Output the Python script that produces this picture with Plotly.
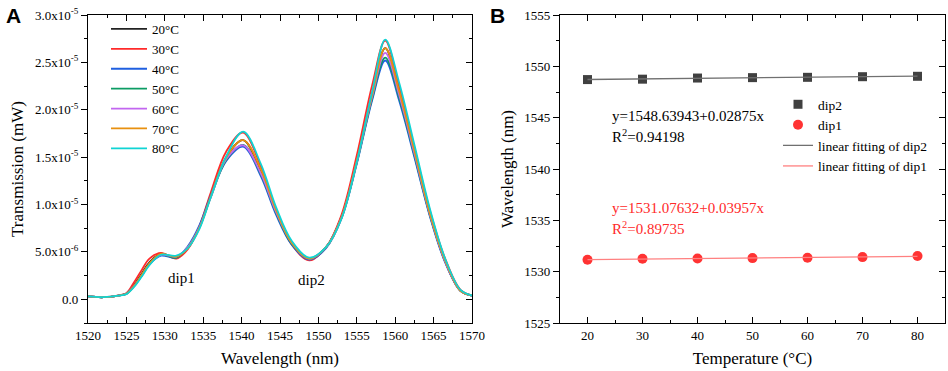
import numpy as np
import plotly.graph_objects as go

# ---------------- Panel A data ----------------
wavelength = [1520, 1522, 1524, 1525, 1526, 1527, 1528, 1529.5, 1531.5, 1533, 1534.5, 1536, 1538,
              1540.2, 1542.5, 1544.5, 1546.5, 1548.8, 1551, 1553, 1555, 1557, 1558.7, 1560.5,
              1562.5, 1564.5, 1566.5, 1568.5, 1570]
# transmission in units of 1e-6 mW
t20 = [0.30, 0.22, 0.40, 0.60, 1.5, 2.7, 3.9, 4.8, 4.4, 5.4, 7.6, 11.0, 15.0, 16.8, 13.5, 9.2, 5.9, 4.2, 5.5, 8.7, 14.7, 21.7, 26.5, 21.8, 15.5, 9.0, 4.0, 0.9, 0.4]
t30 = [0.30, 0.22, 0.42, 0.65, 1.8, 3.1, 4.3, 4.9, 4.3, 5.3, 7.7, 11.3, 15.6, 17.6, 14.0, 9.3, 5.8, 4.1, 5.5, 8.9, 15.2, 22.6, 27.3, 22.5, 16.0, 9.4, 4.3, 1.0, 0.4]
t40 = [0.30, 0.22, 0.40, 0.58, 1.4, 2.5, 3.7, 4.6, 4.4, 5.6, 7.8, 11.0, 14.6, 16.1, 13.0, 8.9, 5.8, 4.2, 5.4, 8.5, 14.3, 21.0, 25.2, 21.0, 15.0, 8.8, 3.9, 0.9, 0.4]
t50 = [0.30, 0.22, 0.40, 0.58, 1.4, 2.5, 3.7, 4.7, 4.4, 5.5, 7.6, 10.8, 14.7, 16.3, 13.2, 9.1, 5.9, 4.3, 5.5, 8.6, 14.4, 21.2, 25.5, 21.3, 15.2, 8.9, 4.0, 0.9, 0.4]
t60 = [0.30, 0.22, 0.40, 0.58, 1.4, 2.5, 3.7, 4.7, 4.5, 5.5, 7.6, 10.8, 14.8, 16.25, 13.3, 9.2, 6.0, 4.3, 5.5, 8.6, 14.5, 21.4, 26.0, 21.6, 15.4, 9.0, 4.0, 0.9, 0.4]
t70 = [0.30, 0.22, 0.40, 0.58, 1.4, 2.6, 3.8, 4.8, 4.5, 5.4, 7.5, 10.9, 15.0, 16.8, 13.7, 9.4, 6.0, 4.3, 5.5, 8.6, 14.6, 21.6, 26.5, 22.0, 15.7, 9.1, 4.1, 0.9, 0.4]
t80 = [0.30, 0.22, 0.38, 0.55, 1.3, 2.4, 3.6, 4.7, 4.6, 5.4, 7.4, 10.8, 15.1, 17.7, 14.3, 9.7, 6.2, 4.4, 5.5, 8.5, 14.5, 21.9, 27.4, 22.9, 16.3, 9.6, 4.3, 1.0, 0.4]
temp_labels = ["20°C", "30°C", "40°C", "50°C", "60°C", "70°C", "80°C"]
line_colors = ["#222222", "#ff2a2a", "#1f5fe0", "#0c9c64", "#c266f0", "#e8900f", "#10d4d4"]

xtick_vals_a = [1520, 1525, 1530, 1535, 1540, 1545, 1550, 1555, 1560, 1565, 1570]
ytick_vals_a = [0, 5e-6, 1e-5, 1.5e-5, 2e-5, 2.5e-5, 3e-5]
ytick_text_a = ["0.0", "5.0x10<sup>-6</sup>", "1.0x10<sup>-5</sup>", "1.5x10<sup>-5</sup>",
                "2.0x10<sup>-5</sup>", "2.5x10<sup>-5</sup>", "3.0x10<sup>-5</sup>"]

# ---------------- Panel B data ----------------
temperature = [20, 30, 40, 50, 60, 70, 80]
dip2 = [1548.71, 1548.75, 1548.86, 1548.90, 1548.93, 1548.99, 1549.03]
dip1 = [1531.16, 1531.26, 1531.29, 1531.32, 1531.35, 1531.42, 1531.52]
ytick_vals_b = [1525, 1530, 1535, 1540, 1545, 1550, 1555]

rangeA_x = [1520, 1570]
rangeA_y = [-2.5e-6, 3.0e-5]
rangeB_x = [15, 85]
rangeB_y = [1525, 1555]

FONT = "Liberation Serif, Times New Roman, Times, serif"
fig = go.Figure()

series = [t20, t30, t40, t50, t60, t70, t80]
for lab, col, vals in zip(temp_labels, line_colors, series):
    fig.add_trace(go.Scatter(x=wavelength, y=np.array(vals) * 1e-6, mode="lines", name=lab,
                             line=dict(color=col, width=1.8, shape="spline", smoothing=1.0),
                             xaxis="x", yaxis="y", legend="legend"))

# Panel B traces
fig.add_trace(go.Scatter(x=temperature, y=dip2, mode="markers", name="dip2",
                         marker=dict(symbol="square", size=9, color="#404040"),
                         xaxis="x2", yaxis="y2", legend="legend2"))
fig.add_trace(go.Scatter(x=temperature, y=dip1, mode="markers", name="dip1",
                         marker=dict(symbol="circle", size=10, color="#ff3333"),
                         xaxis="x2", yaxis="y2", legend="legend2"))
tarr = np.array(temperature, dtype=float)
p2 = np.polyfit(tarr, dip2, 1)
p1 = np.polyfit(tarr, dip1, 1)
fig.add_trace(go.Scatter(x=temperature, y=np.polyval(p2, tarr), mode="lines", name="linear fitting of dip2",
                         line=dict(color="#707070", width=1.3), xaxis="x2", yaxis="y2", legend="legend2"))
fig.add_trace(go.Scatter(x=temperature, y=np.polyval(p1, tarr), mode="lines", name="linear fitting of dip1",
                         line=dict(color="#ff8080", width=1.3), xaxis="x2", yaxis="y2", legend="legend2"))

# Invisible helper traces so the mirrored tick axes (top / right) are rendered
fig.add_trace(go.Scatter(x=rangeA_x, y=rangeA_y, mode="lines", opacity=0, line=dict(width=0),
                         xaxis="x3", yaxis="y3", showlegend=False, hoverinfo="skip"))
fig.add_trace(go.Scatter(x=rangeB_x, y=rangeB_y, mode="lines", opacity=0, line=dict(width=0),
                         xaxis="x4", yaxis="y4", showlegend=False, hoverinfo="skip"))

W, H = 948, 371
def px(x):
    return x / W
def py(y):
    return 1 - y / H

ydom = [py(323), py(15)]
xa_dom = [px(88), px(472)]
xb_dom = [px(560), px(945)]

def tf():
    return dict(family=FONT, size=13, color="black")

def common(mirror=True):
    return dict(showline=True, mirror=mirror, linecolor="black", linewidth=1.3, showgrid=False, zeroline=False,
                tickfont=tf(), tickcolor="black", ticklen=6, tickwidth=1.2, automargin=False)

titlefont = dict(family=FONT, size=17, color="black")

fig.update_layout(
    width=W, height=H, margin=dict(l=0, r=0, t=0, b=0, autoexpand=False),
    paper_bgcolor="white", plot_bgcolor="white",
    font=dict(family=FONT, color="black"),
    xaxis=dict(domain=xa_dom, range=rangeA_x, anchor="y", ticks="inside", tickvals=xtick_vals_a,
               minor=dict(ticks="inside", dtick=2.5, ticklen=3, tickcolor="black"),
               title=dict(text="Wavelength (nm)", font=titlefont, standoff=10), **common()),
    yaxis=dict(domain=ydom, range=rangeA_y, anchor="x", ticks="outside", tickvals=ytick_vals_a,
               ticktext=ytick_text_a,
               minor=dict(ticks="outside", dtick=2.5e-6, ticklen=3, tickcolor="black"),
               title=dict(text="Transmission (mW)", font=titlefont, standoff=6), **common()),
    xaxis3=dict(domain=xa_dom, range=rangeA_x, anchor="y3", overlaying="x", side="top", ticks="inside",
                tickvals=xtick_vals_a, showticklabels=False,
                minor=dict(ticks="inside", dtick=2.5, ticklen=3, tickcolor="black"), **common(False)),
    yaxis3=dict(domain=ydom, range=rangeA_y, anchor="x3", overlaying="y", side="right", ticks="inside",
                tickvals=ytick_vals_a, showticklabels=False,
                minor=dict(ticks="inside", dtick=2.5e-6, ticklen=3, tickcolor="black"), **common(False)),
    xaxis2=dict(domain=xb_dom, range=rangeB_x, anchor="y2", ticks="inside", tickvals=temperature,
                minor=dict(ticks="inside", dtick=5, ticklen=3, tickcolor="black"),
                title=dict(text="Temperature (°C)", font=titlefont, standoff=10), **common()),
    yaxis2=dict(domain=ydom, range=rangeB_y, anchor="x2", ticks="outside", tickvals=ytick_vals_b,
                minor=dict(ticks="outside", dtick=2.5, ticklen=3, tickcolor="black"),
                title=dict(text="Wavelength (nm)", font=titlefont, standoff=6), **common()),
    xaxis4=dict(domain=xb_dom, range=rangeB_x, anchor="y4", overlaying="x2", side="top", ticks="inside",
                tickvals=temperature, showticklabels=False,
                minor=dict(ticks="inside", dtick=5, ticklen=3, tickcolor="black"), **common(False)),
    yaxis4=dict(domain=ydom, range=rangeB_y, anchor="x4", overlaying="y2", side="right", ticks="inside",
                tickvals=ytick_vals_b, showticklabels=False,
                minor=dict(ticks="inside", dtick=2.5, ticklen=3, tickcolor="black"), **common(False)),
    legend=dict(x=px(106), y=py(14), xanchor="left", yanchor="top", bgcolor="rgba(0,0,0,0)",
                font=dict(family=FONT, size=13, color="black"), tracegroupgap=0, itemwidth=36),
    legend2=dict(x=px(778), y=py(89), xanchor="left", yanchor="top", bgcolor="rgba(0,0,0,0)",
                 font=dict(family=FONT, size=13.5, color="black"), tracegroupgap=0, itemwidth=30),
    showlegend=True,
)

ann = [
    dict(text="<b>A</b>", x=px(4), y=py(2), font=dict(family="Liberation Sans, Arial, sans-serif", size=21)),
    dict(text="<b>B</b>", x=px(488), y=py(2), font=dict(family="Liberation Sans, Arial, sans-serif", size=21)),
    dict(text="dip1", x=px(166), y=py(268), font=dict(family=FONT, size=15)),
    dict(text="dip2", x=px(296), y=py(270), font=dict(family=FONT, size=15)),
    dict(text="y=1548.63943+0.02875x", x=px(610), y=py(106), font=dict(family=FONT, size=15)),
    dict(text="R<sup>2</sup>=0.94198", x=px(610), y=py(125), font=dict(family=FONT, size=15)),
    dict(text="y=1531.07632+0.03957x", x=px(610), y=py(198), font=dict(family=FONT, size=15, color="#ff2a2a")),
    dict(text="R<sup>2</sup>=0.89735", x=px(610), y=py(217), font=dict(family=FONT, size=15, color="#ff2a2a")),
]
for a in ann:
    a.update(xref="paper", yref="paper", xanchor="left", yanchor="top", showarrow=False)
    if "color" not in a["font"]:
        a["font"]["color"] = "black"
fig.update_layout(annotations=ann)

fig.write_html("out.html", config={"displayModeBar": False},
               post_script="document.body.style.margin='0';document.body.style.overflow='hidden';")
